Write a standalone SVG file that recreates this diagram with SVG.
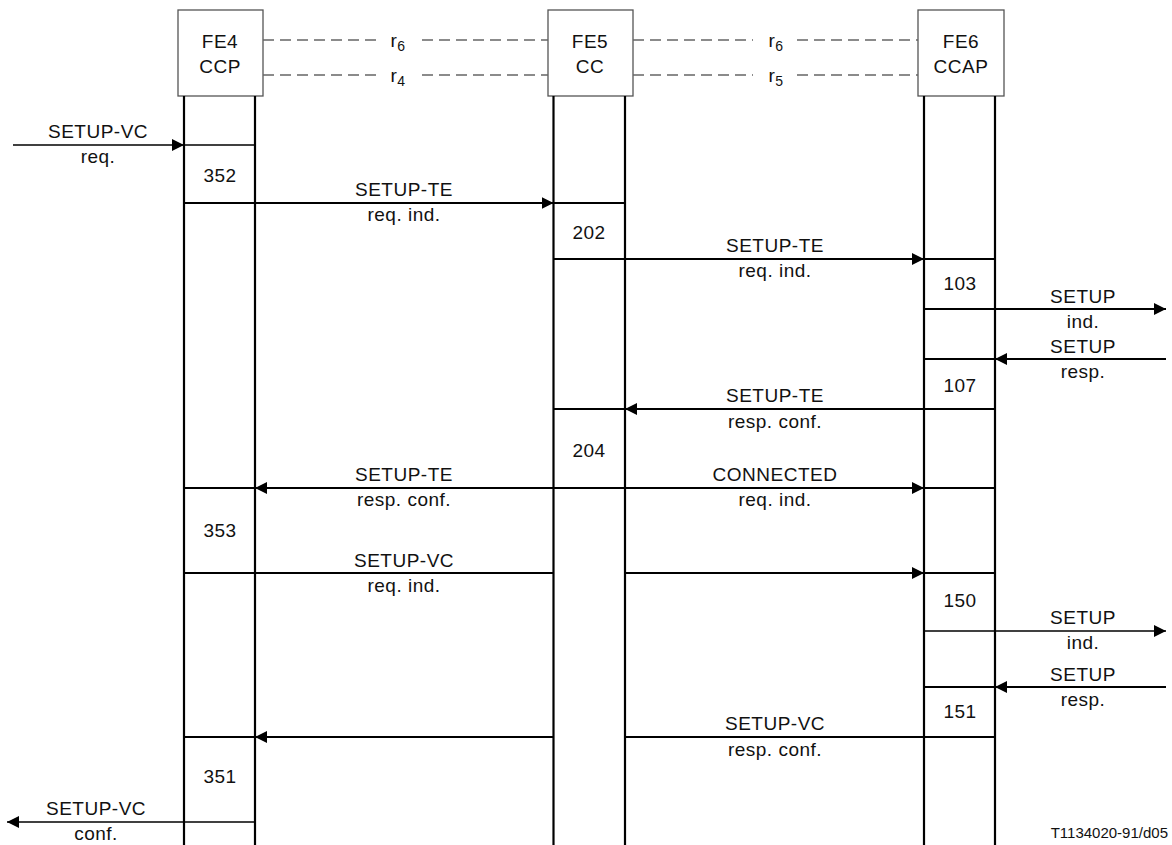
<svg xmlns="http://www.w3.org/2000/svg" width="1172" height="845" viewBox="0 0 1172 845">
<style>
text{font-family:"Liberation Sans",Arial,sans-serif;font-size:19px;letter-spacing:0.5px;fill:#111;text-anchor:middle}
.box{fill:#fff;stroke:#555;stroke-width:1.3}
.life{stroke:#000;stroke-width:2.2;fill:none}
.msg{stroke:#000;stroke-width:2;fill:none}
.thin{stroke:#000;stroke-width:1.3;fill:none}
.dash{stroke:#666;stroke-width:1.3;stroke-dasharray:11 6;fill:none}
.sub{font-size:14px}
.ref{font-size:15px;letter-spacing:0;text-anchor:end}
</style>
<defs>
<marker id="ah" viewBox="0 0 12 12" refX="12" refY="6" markerWidth="12" markerHeight="12" markerUnits="userSpaceOnUse" orient="auto">
<path d="M0,0 L12,6 L0,12 Z" fill="#000"/>
</marker>
</defs>
<g id="fe4">
<rect class="box" x="178" y="10" width="85" height="86"/>
<text x="220" y="48">FE4</text>
<text x="220" y="73">CCP</text>
<line class="life" x1="184" y1="96" x2="184" y2="845"/>
<line class="life" x1="255" y1="96" x2="255" y2="845"/>
</g>
<g id="fe5">
<rect class="box" x="548" y="10" width="85" height="86"/>
<text x="590" y="48">FE5</text>
<text x="590" y="73">CC</text>
<line class="life" x1="553.5" y1="96" x2="553.5" y2="845"/>
<line class="life" x1="625" y1="96" x2="625" y2="845"/>
</g>
<g id="fe6">
<rect class="box" x="918" y="10" width="86" height="86"/>
<text x="961" y="48">FE6</text>
<text x="961" y="73">CCAP</text>
<line class="life" x1="924" y1="96" x2="924" y2="845"/>
<line class="life" x1="995" y1="96" x2="995" y2="845"/>
</g>
<g id="connectors">
<line class="dash" x1="263" y1="40" x2="381" y2="40"/>
<line class="dash" x1="422" y1="40" x2="548" y2="40"/>
<line class="dash" x1="263" y1="75" x2="381" y2="75"/>
<line class="dash" x1="422" y1="75" x2="548" y2="75"/>
<line class="dash" x1="633" y1="40" x2="753" y2="40"/>
<line class="dash" x1="797" y1="40" x2="918" y2="40"/>
<line class="dash" x1="633" y1="75" x2="753" y2="75"/>
<line class="dash" x1="797" y1="75" x2="918" y2="75"/>
<line class="thin" x1="13" y1="145" x2="184" y2="145" marker-end="url(#ah)"/>
<line class="thin" x1="184" y1="145" x2="255" y2="145"/>
<line class="msg" x1="184" y1="203" x2="553.5" y2="203" marker-end="url(#ah)"/>
<line class="msg" x1="553.5" y1="203" x2="625" y2="203"/>
<line class="msg" x1="553.5" y1="259" x2="924" y2="259" marker-end="url(#ah)"/>
<line class="msg" x1="924" y1="259" x2="995" y2="259"/>
<line class="msg" x1="924" y1="309" x2="1166" y2="309" marker-end="url(#ah)"/>
<line class="msg" x1="1166" y1="359" x2="995" y2="359" marker-end="url(#ah)"/>
<line class="msg" x1="924" y1="359" x2="995" y2="359"/>
<line class="msg" x1="995" y1="409" x2="625" y2="409" marker-end="url(#ah)"/>
<line class="msg" x1="553.5" y1="409" x2="625" y2="409"/>
<line class="msg" x1="553.5" y1="488" x2="255" y2="488" marker-end="url(#ah)"/>
<line class="msg" x1="184" y1="488" x2="255" y2="488"/>
<line class="msg" x1="553.5" y1="488" x2="924" y2="488" marker-end="url(#ah)"/>
<line class="msg" x1="924" y1="488" x2="995" y2="488"/>
<line class="msg" x1="184" y1="573" x2="553.5" y2="573"/>
<line class="msg" x1="625" y1="573" x2="924" y2="573" marker-end="url(#ah)"/>
<line class="msg" x1="924" y1="573" x2="995" y2="573"/>
<line class="thin" x1="924" y1="631" x2="1166" y2="631" marker-end="url(#ah)"/>
<line class="msg" x1="1166" y1="687" x2="995" y2="687" marker-end="url(#ah)"/>
<line class="msg" x1="924" y1="687" x2="995" y2="687"/>
<line class="msg" x1="995" y1="737" x2="625" y2="737"/>
<line class="msg" x1="553.5" y1="737" x2="255" y2="737" marker-end="url(#ah)"/>
<line class="msg" x1="184" y1="737" x2="255" y2="737"/>
<line class="thin" x1="255" y1="822" x2="7" y2="822" marker-end="url(#ah)"/>
</g>
<g id="labels">
<text x="398" y="47">r<tspan class="sub" dy="4">6</tspan></text>
<text x="398" y="82">r<tspan class="sub" dy="4">4</tspan></text>
<text x="776" y="47">r<tspan class="sub" dy="4">6</tspan></text>
<text x="776" y="82">r<tspan class="sub" dy="4">5</tspan></text>
<text x="98" y="138">SETUP-VC</text>
<text x="98" y="163">req.</text>
<text x="220" y="182">352</text>
<text x="404" y="196">SETUP-TE</text>
<text x="404" y="221">req. ind.</text>
<text x="589" y="239">202</text>
<text x="775" y="252">SETUP-TE</text>
<text x="775" y="277">req. ind.</text>
<text x="960" y="290">103</text>
<text x="1083" y="303">SETUP</text>
<text x="1083" y="328">ind.</text>
<text x="1083" y="353">SETUP</text>
<text x="1083" y="378">resp.</text>
<text x="960" y="392">107</text>
<text x="775" y="402">SETUP-TE</text>
<text x="775" y="428">resp. conf.</text>
<text x="589" y="457">204</text>
<text x="404" y="481">SETUP-TE</text>
<text x="404" y="506">resp. conf.</text>
<text x="775" y="481">CONNECTED</text>
<text x="775" y="506">req. ind.</text>
<text x="220" y="537">353</text>
<text x="404" y="567">SETUP-VC</text>
<text x="404" y="592">req. ind.</text>
<text x="960" y="607">150</text>
<text x="1083" y="624">SETUP</text>
<text x="1083" y="649">ind.</text>
<text x="1083" y="681">SETUP</text>
<text x="1083" y="706">resp.</text>
<text x="960" y="718">151</text>
<text x="775" y="730">SETUP-VC</text>
<text x="775" y="756">resp. conf.</text>
<text x="220" y="783">351</text>
<text x="96" y="815">SETUP-VC</text>
<text x="96" y="840">conf.</text>
<text class="ref" x="1168" y="838">T1134020-91/d05</text>
</g>
</svg>
